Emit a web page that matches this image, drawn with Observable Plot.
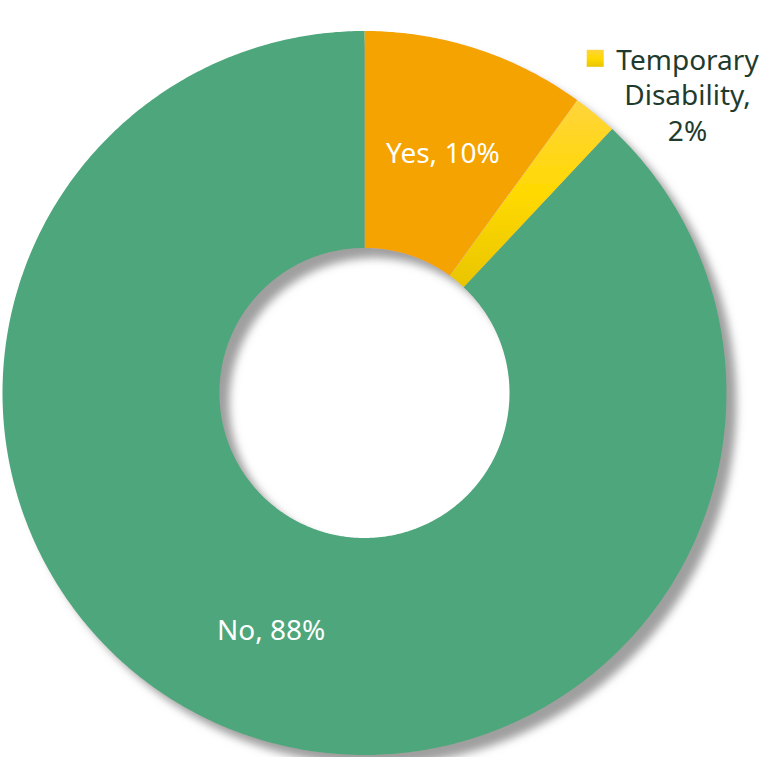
<!DOCTYPE html>
<html><head><meta charset="utf-8">
<script src="https://cdn.jsdelivr.net/npm/d3@7"></script>
<script src="https://cdn.jsdelivr.net/npm/@observablehq/plot@0.6"></script>
<style>html,body{margin:0;padding:0;background:#fff;}</style>
</head><body><div id="chart"></div>
<script>
// ---- data ----
const categories = ["Yes", "Temporary Disability", "No"];
const values = [10, 2, 88];
const labels = ["Yes, 10%", "Temporary\nDisability,\n2%", "No, 88%"];
const colors = ["#F4A300", "url(#yellowGrad)", "#4EA67B"];

// ---- layout ----
const W = 763, H = 757, CX = 364, CY = 392.5, R = 362, INNER = 145 / 362;
const px = p => (p - CX) / R, py = p => (CY - p) / R;
const FS = 28, LH = 35.5 / 28;

const arcs = d3.pie().sort(null).value(d => d.value)(
  categories.map((c, i) => ({cat: c, value: values[i], label: labels[i], color: colors[i]}))
);

function arcPoints(a) {
  const pts = [];
  const n = Math.max(8, Math.ceil((a.endAngle - a.startAngle) / (Math.PI / 360)));
  for (let k = 0; k <= n; k++) {
    const t = a.startAngle + (a.endAngle - a.startAngle) * k / n;
    pts.push({x: Math.sin(t), y: Math.cos(t)});
  }
  for (let k = n; k >= 0; k--) {
    const t = a.startAngle + (a.endAngle - a.startAngle) * k / n;
    pts.push({x: INNER * Math.sin(t), y: INNER * Math.cos(t)});
  }
  return pts;
}

const sliceMarks = arcs.map(a =>
  Plot.line(arcPoints(a), {x: "x", y: "y", curve: "linear-closed", fill: a.data.color, stroke: "none"})
);

const rMid = (1 + INNER) / 2;
const inside = arcs.filter(a => a.data.cat !== "Temporary Disability").map(a => {
  const m = (a.startAngle + a.endAngle) / 2;
  return {x: rMid * Math.sin(m), y: rMid * Math.cos(m), label: a.data.label};
});
const tempArc = arcs.find(a => a.data.cat === "Temporary Disability");
const outside = [{x: px(687), y: py(69.5 - 0.71 * LH * FS), label: tempArc.data.label}];
const legendSq = [{x: px(594.7), y: py(57.8)}];

const font = "Noto Sans";
const plot = Plot.plot({
  width: W, height: H,
  margin: 0,
  x: {domain: [px(0), px(W)], axis: null},
  y: {domain: [py(H), py(0)], axis: null},
  style: {background: "#fff"},
  marks: [
    ...sliceMarks,
    Plot.text(inside, {x: "x", y: "y", dy: 2.5, text: "label", fill: "#fff", fontSize: FS, fontFamily: font, textAnchor: "middle"}),
    Plot.dot(legendSq, {x: "x", y: "y", symbol: "square", r: 9.6, fill: "url(#yellowGrad)", stroke: "none"}),
    Plot.text(outside, {x: "x", y: "y", text: "label", fill: "#1F3B2D", fontSize: FS, fontFamily: font,
      textAnchor: "middle", lineAnchor: "top", lineHeight: LH})
  ]
});

const svg = d3.select(plot);
const defs = svg.insert("defs", ":first-child");
const grad = defs.append("linearGradient").attr("id", "yellowGrad").attr("x1", 0).attr("y1", 0).attr("x2", 0).attr("y2", 1);
grad.append("stop").attr("offset", "0%").attr("stop-color", "#FFD43C");
grad.append("stop").attr("offset", "50%").attr("stop-color", "#FFD900");
grad.append("stop").attr("offset", "100%").attr("stop-color", "#E9C500");
const f = defs.append("filter").attr("id", "shadow").attr("x", "-10%").attr("y", "-10%").attr("width", "130%").attr("height", "130%");
f.append("feDropShadow").attr("dx", 10).attr("dy", 10).attr("stdDeviation", 4.5)
  .attr("flood-color", "#9a9a9a").attr("flood-opacity", 0.95);

const lineGroups = svg.selectAll('g[aria-label="line"]').nodes();
if (lineGroups.length) {
  const wrap = document.createElementNS("http://www.w3.org/2000/svg", "g");
  wrap.setAttribute("filter", "url(#shadow)");
  lineGroups[0].parentNode.insertBefore(wrap, lineGroups[0]);
  lineGroups.forEach(g => wrap.appendChild(g));
}

document.getElementById("chart").appendChild(plot);
</script>
</body></html>
